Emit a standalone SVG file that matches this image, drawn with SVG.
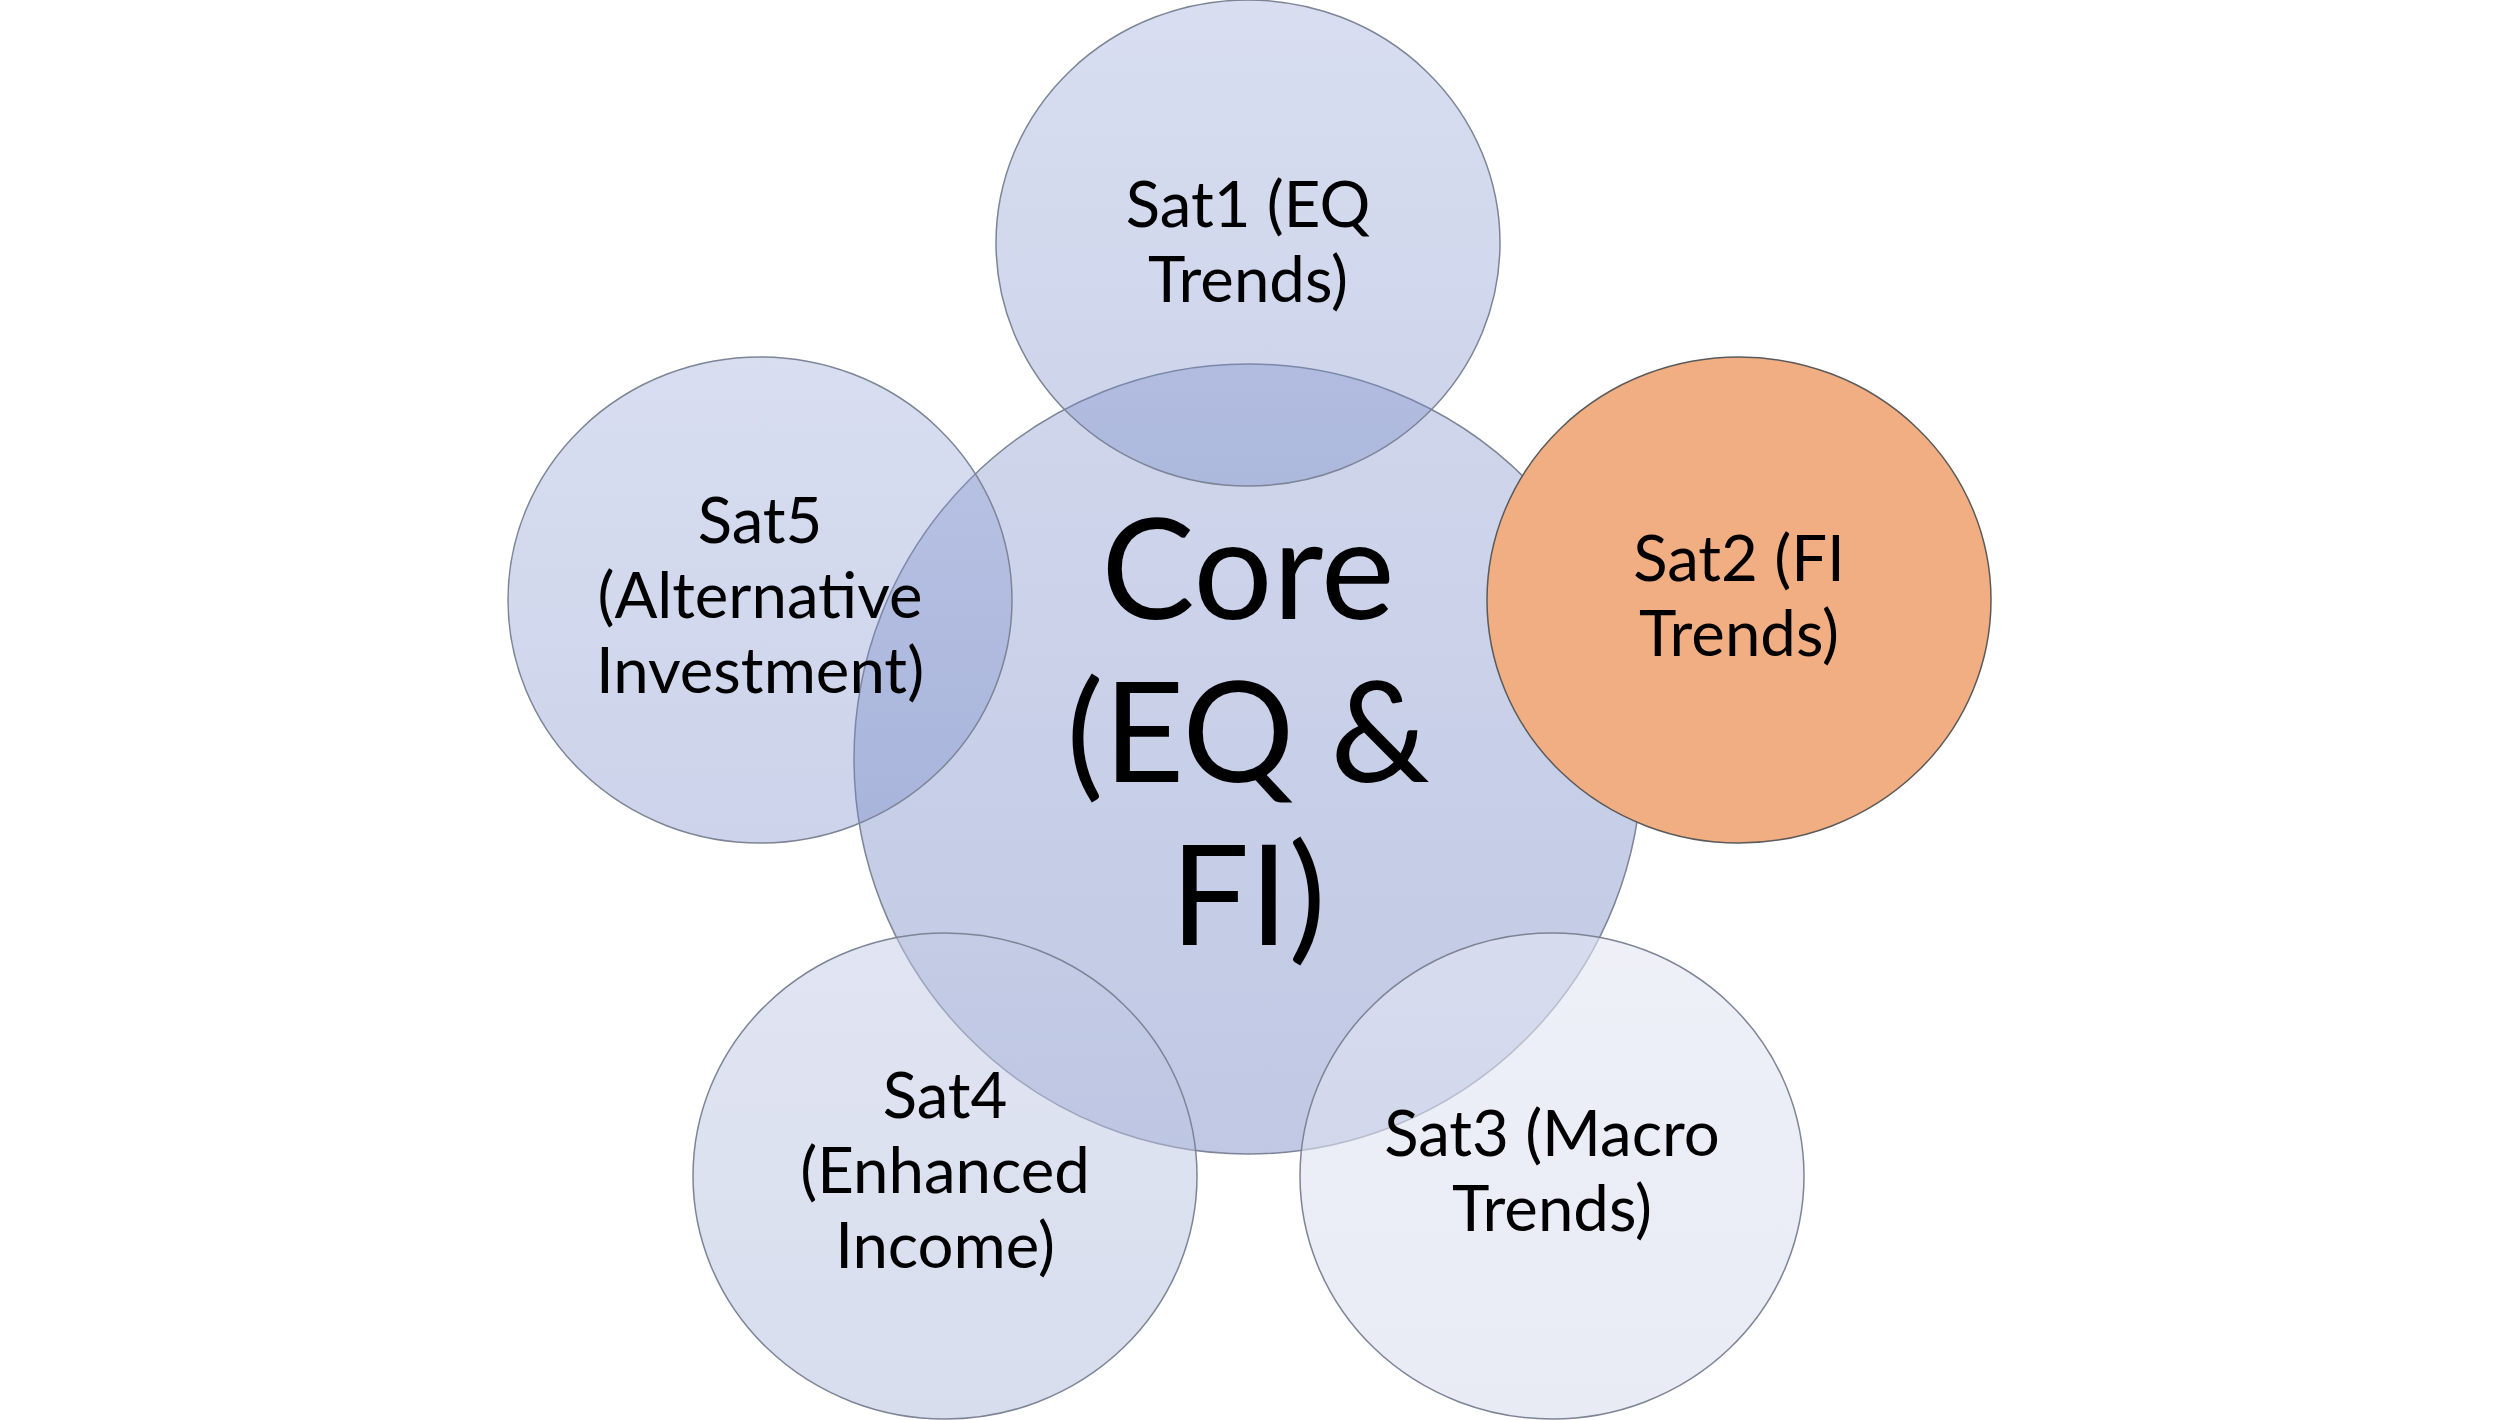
<svg xmlns="http://www.w3.org/2000/svg" width="2500" height="1420" viewBox="0 0 2500 1420">
  <style>
    .lbl { font-family: Lato, "Open Sans", "Liberation Sans", sans-serif; fill: #000000; text-anchor: middle; }
    .sat { font-size: 63.5px; }
    .core { font-size: 140px; }
    .edge { stroke: #7c8496; stroke-width: 1.5; }
  </style>
  <defs>
    <linearGradient id="gCore" x1="0" y1="0" x2="0" y2="1">
      <stop offset="0" stop-color="#d0d7ec"/>
      <stop offset="1" stop-color="#c0c8e4"/>
    </linearGradient>
    <linearGradient id="gBlue" x1="0" y1="0" x2="0" y2="1">
      <stop offset="0" stop-color="rgb(147,164,214)" stop-opacity="0.36"/>
      <stop offset="1" stop-color="rgb(114,133,197)" stop-opacity="0.36"/>
    </linearGradient>
    <linearGradient id="gSat4" x1="0" y1="0" x2="0" y2="1">
      <stop offset="0" stop-color="rgb(195,203,229)" stop-opacity="0.5"/>
      <stop offset="1" stop-color="rgb(177,187,221)" stop-opacity="0.5"/>
    </linearGradient>
    <linearGradient id="gSat3" x1="0" y1="0" x2="0" y2="1">
      <stop offset="0" stop-color="rgb(227,230,243)" stop-opacity="0.6"/>
      <stop offset="1" stop-color="rgb(217,222,238)" stop-opacity="0.6"/>
    </linearGradient>
  </defs>
  <rect x="0" y="0" width="2500" height="1420" fill="#ffffff"/>

  <g id="core">
    <ellipse class="edge" cx="1248" cy="759" rx="394" ry="395" fill="url(#gCore)"/>
    <text class="lbl core" x="1248" y="619">Core</text>
    <text class="lbl core" x="1248" y="782">(EQ &amp;</text>
    <text class="lbl core" x="1248" y="945">FI)</text>
  </g>

  <g id="sat1">
    <ellipse class="edge" cx="1248" cy="243" rx="252" ry="243" fill="url(#gBlue)"/>
    <text class="lbl sat" x="1248" y="227">Sat1 (EQ</text>
    <text class="lbl sat" x="1248" y="302">Trends)</text>
  </g>

  <g id="sat5">
    <ellipse class="edge" cx="760" cy="600" rx="252" ry="243" fill="url(#gBlue)"/>
    <text class="lbl sat" x="760" y="543">Sat5</text>
    <text class="lbl sat" x="760" y="618">(Alternative</text>
    <text class="lbl sat" x="760" y="693">Investment)</text>
  </g>

  <g id="sat4">
    <ellipse class="edge" cx="945" cy="1176" rx="252" ry="243" fill="url(#gSat4)"/>
    <text class="lbl sat" x="945" y="1118">Sat4</text>
    <text class="lbl sat" x="945" y="1193">(Enhanced</text>
    <text class="lbl sat" x="945" y="1268">Income)</text>
  </g>

  <g id="sat3">
    <ellipse class="edge" cx="1552" cy="1176" rx="252" ry="243" fill="url(#gSat3)"/>
    <text class="lbl sat" x="1552" y="1156">Sat3 (Macro</text>
    <text class="lbl sat" x="1552" y="1231">Trends)</text>
  </g>

  <g id="sat2">
    <ellipse cx="1739" cy="600" rx="252" ry="243" fill="#f2ae83" stroke="#5a5a5a" stroke-width="1.5"/>
    <text class="lbl sat" x="1739" y="581">Sat2 (FI</text>
    <text class="lbl sat" x="1739" y="656">Trends)</text>
  </g>

  <g id="connectors"/>
</svg>
